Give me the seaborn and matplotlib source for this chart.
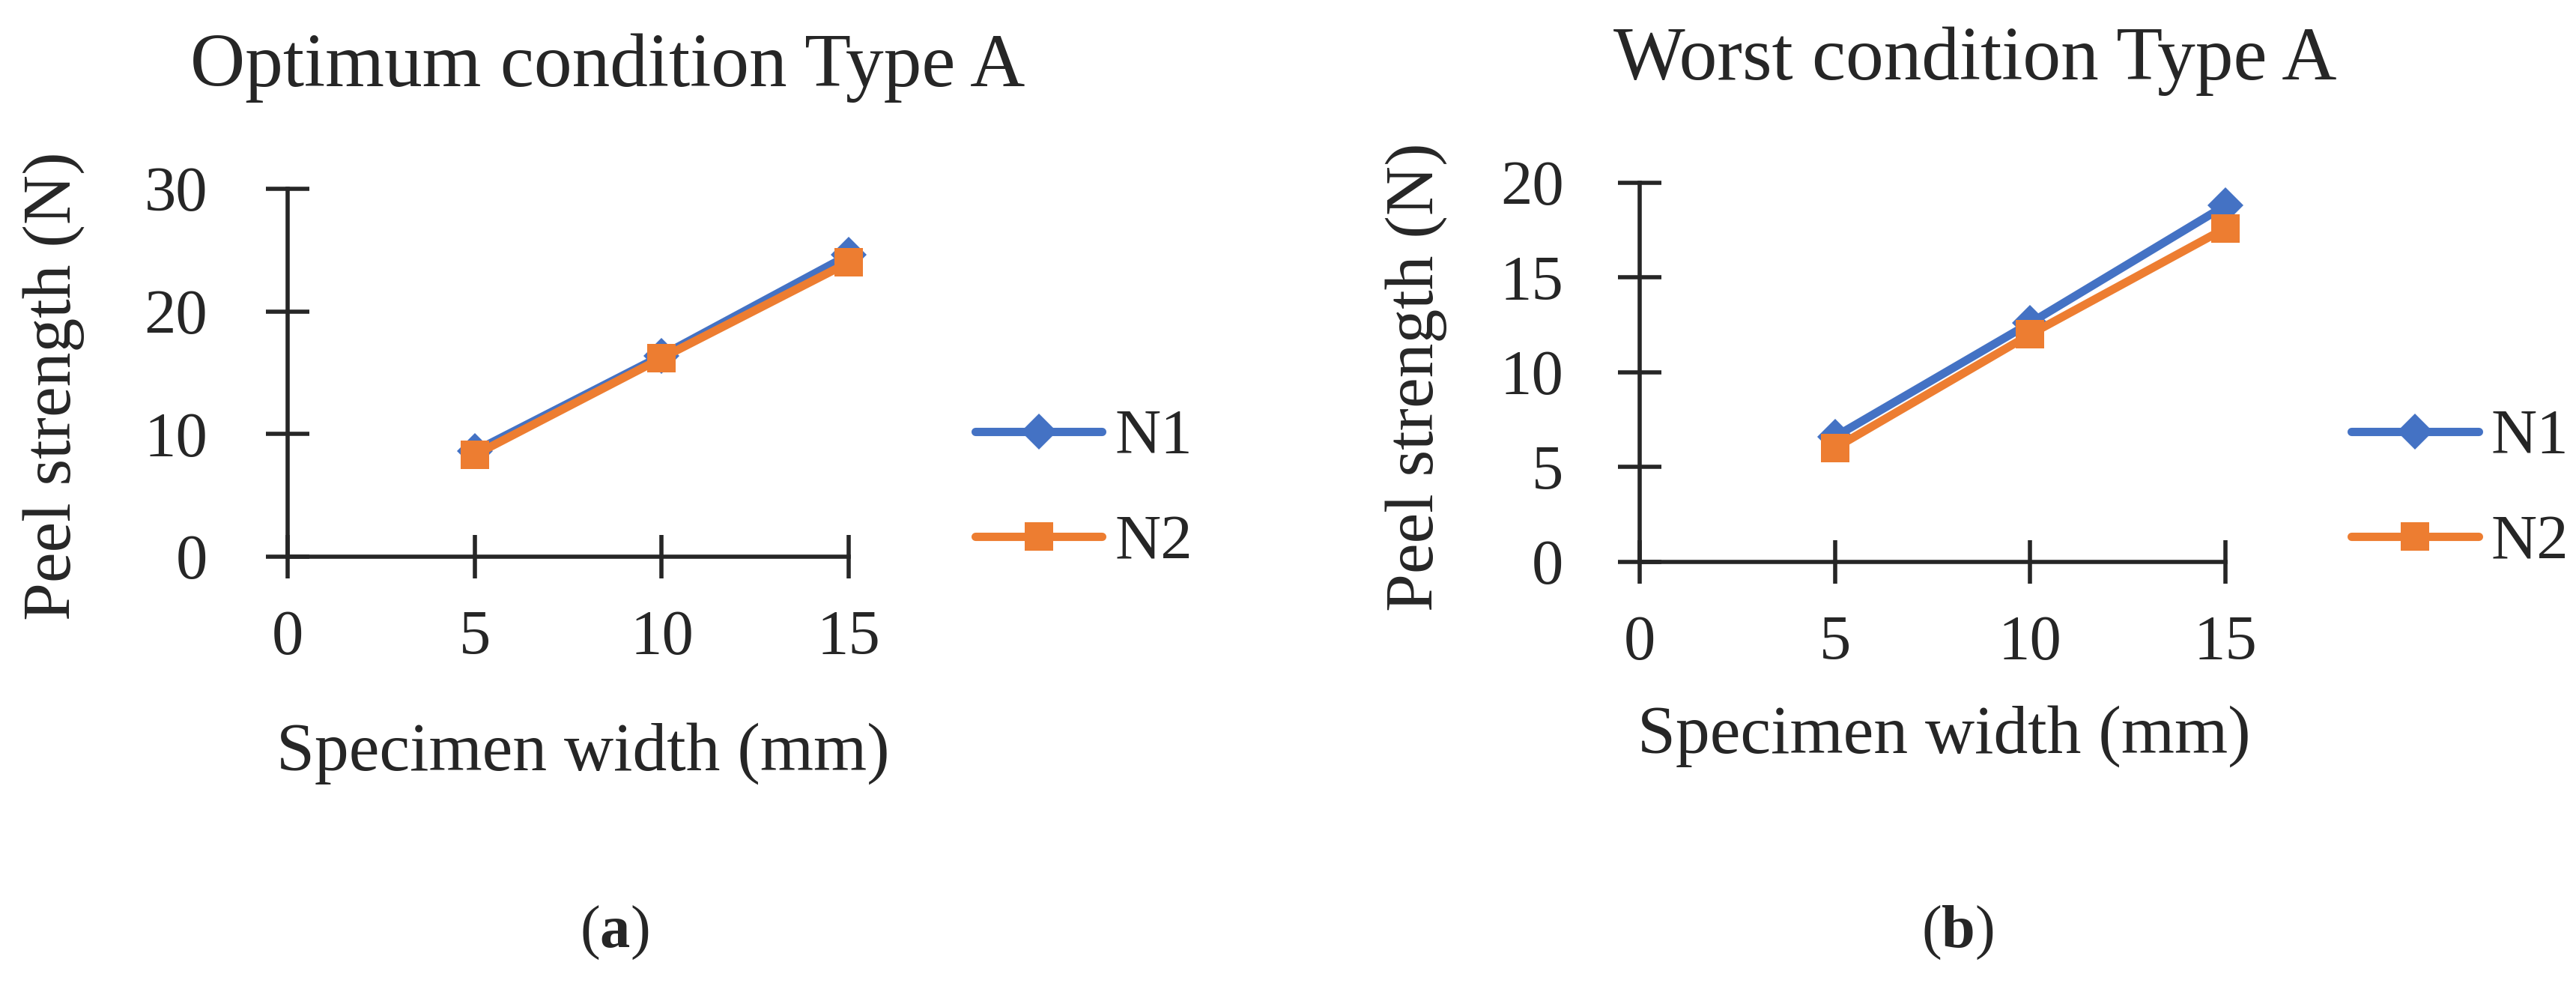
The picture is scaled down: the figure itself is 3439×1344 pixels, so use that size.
import pandas as pd
import matplotlib.pyplot as plt
import seaborn as sns

# Data
widths = [5, 10, 15]
series_names = ["N1", "N2"]
opt_n1 = [8.6, 16.4, 24.6]
opt_n2 = [8.3, 16.2, 24.0]
worst_n1 = [6.6, 12.6, 18.8]
worst_n2 = [6.0, 12.0, 17.6]

x_ticks = [0, 5, 10, 15]
opt_y_ticks = [0, 10, 20, 30]
worst_y_ticks = [0, 5, 10, 15, 20]

titles = ["Optimum condition Type A", "Worst condition Type A"]
x_label = "Specimen width (mm)"
y_label = "Peel strength (N)"
panel_tags = [r"($\mathbf{a}$)", r"($\mathbf{b}$)"]

colors = {"N1": "#4472C4", "N2": "#ED7D31"}
markers = {"N1": "D", "N2": "s"}


def long_df(n1, n2):
    return pd.DataFrame({
        "width": widths * 2,
        "peel": n1 + n2,
        "series": ["N1"] * len(widths) + ["N2"] * len(widths),
    })


sns.set_style("ticks")
plt.rcParams["font.family"] = ["Liberation Serif", "DejaVu Serif"]
plt.rcParams["mathtext.fontset"] = "custom"
plt.rcParams["mathtext.rm"] = "Liberation Serif"
plt.rcParams["mathtext.bf"] = "Liberation Serif:bold"

fig = plt.figure(figsize=(34.39, 13.44), dpi=100)

panels = [
    dict(df=long_df(opt_n1, opt_n2), rect=[0.1117, 0.4472, 0.2178, 0.3653],
         ylim=30, yticks=opt_y_ticks, ypad=56, title_xy=(0.2358, 0.9144),
         xlab_xy=(0.2262, 0.2351), ylab_xy=(0.0209, 0.6168),
         leg_xy=(0.3786, 0.5126), tag_xy=(0.2385, 0.074)),
    dict(df=long_df(worst_n1, worst_n2), rect=[0.6365, 0.4420, 0.2274, 0.3765],
         ylim=20, yticks=worst_y_ticks, ypad=52, title_xy=(0.7668, 0.9211),
         xlab_xy=(0.7546, 0.2522), ylab_xy=(0.5496, 0.6257),
         leg_xy=(0.9128, 0.5126), tag_xy=(0.7600, 0.074)),
]

for i, p in enumerate(panels):
    ax = fig.add_axes(p["rect"])
    sns.lineplot(data=p["df"], x="width", y="peel", hue="series", style="series",
                 palette=colors, markers=markers, dashes=False, linewidth=8,
                 markersize=24, markeredgewidth=0, legend=False, ax=ax)
    for line, name in zip(ax.lines, series_names):
        line.set_clip_on(False)
        line.set_solid_capstyle("round")
        line.set_label(name)
        if name == "N2":
            line.set_markersize(27)
    ax.set_xlim(0, 15)
    ax.set_ylim(0, p["ylim"])
    ax.set_xticks(x_ticks)
    ax.set_yticks(p["yticks"])
    ax.set_xlabel("")
    ax.set_ylabel("")
    sns.despine(ax=ax)
    for s in ["left", "bottom"]:
        ax.spines[s].set_linewidth(4)
    ax.tick_params(axis="both", direction="inout", length=42, width=4,
                   labelsize=61)
    ax.tick_params(axis="x", pad=30)
    ax.tick_params(axis="y", pad=p["ypad"])

    leg = ax.legend(handles=ax.lines, labels=series_names, loc="center left",
                    bbox_to_anchor=p["leg_xy"], bbox_transform=fig.transFigure,
                    frameon=False, fontsize=61, handlelength=2.0,
                    handletextpad=0.2, labelspacing=0.75, borderpad=0,
                    borderaxespad=0)

    fig.text(*p["title_xy"], titles[i], fontsize=73, ha="center", va="baseline")
    fig.text(*p["xlab_xy"], x_label, fontsize=66, ha="center", va="baseline")
    fig.text(*p["ylab_xy"], y_label, fontsize=66, rotation=90,
             ha="center", va="center")
    fig.text(*p["tag_xy"], panel_tags[i], fontsize=58, ha="center", va="center")

fig.savefig("out.png", dpi=100, facecolor="white")
